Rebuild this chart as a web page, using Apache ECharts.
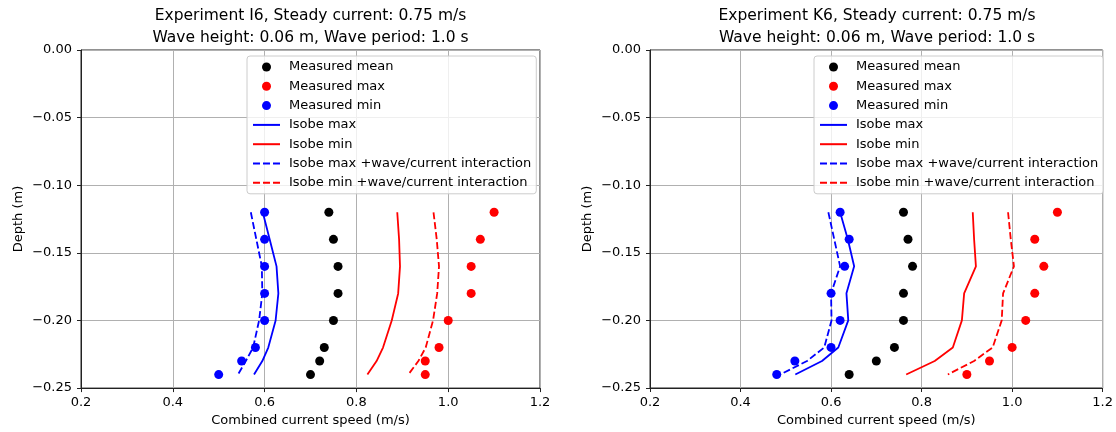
<!DOCTYPE html>
<html>
<head>
<meta charset="utf-8">
<title>Velocity profiles I6 / K6</title>
<script src="https://cdn.jsdelivr.net/npm/echarts@6/dist/echarts.min.js"></script>
<style>
  html, body { margin: 0; padding: 0; background: #fff; }
  #chart { width: 1116px; height: 432px; }
</style>
</head>
<body>
<div id="chart"></div>
<script>
// Measurement depths (m), shared by both experiments
const depths = [-0.12, -0.14, -0.16, -0.18, -0.20, -0.22, -0.23, -0.24];

// Experiment I6
const i6MeasuredMean = [0.74, 0.75, 0.76, 0.76, 0.75, 0.73, 0.72, 0.70];
const i6MeasuredMax  = [1.10, 1.07, 1.05, 1.05, 1.00, 0.98, 0.95, 0.95];
const i6MeasuredMin  = [0.60, 0.60, 0.60, 0.60, 0.60, 0.58, 0.55, 0.50];
const i6IsobeMax     = [0.596, 0.611, 0.626, 0.630, 0.624, 0.608, 0.595, 0.577];
const i6IsobeMin     = [0.889, 0.893, 0.895, 0.891, 0.877, 0.858, 0.844, 0.824];
const i6IsobeMaxWc   = [0.570, 0.582, 0.594, 0.595, 0.588, 0.575, 0.559, 0.542];
const i6IsobeMinWc   = [0.968, 0.975, 0.980, 0.976, 0.967, 0.951, 0.935, 0.913];

// Experiment K6
const k6MeasuredMean = [0.76, 0.77, 0.78, 0.76, 0.76, 0.74, 0.70, 0.64];
const k6MeasuredMax  = [1.10, 1.05, 1.07, 1.05, 1.03, 1.00, 0.95, 0.90];
const k6MeasuredMin  = [0.62, 0.64, 0.63, 0.60, 0.62, 0.60, 0.52, 0.48];
const k6IsobeMax     = [0.620, 0.637, 0.651, 0.634, 0.638, 0.616, 0.580, 0.521];
const k6IsobeMin     = [0.913, 0.916, 0.920, 0.894, 0.889, 0.869, 0.829, 0.766];
const k6IsobeMaxWc   = [0.594, 0.607, 0.620, 0.600, 0.601, 0.585, 0.547, 0.488];
const k6IsobeMinWc   = [0.991, 0.997, 1.004, 0.980, 0.977, 0.957, 0.916, 0.858];

const panelTitles = [
  'Experiment I6, Steady current: 0.75 m/s\nWave height: 0.06 m, Wave period: 1.0 s',
  'Experiment K6, Steady current: 0.75 m/s\nWave height: 0.06 m, Wave period: 1.0 s'
];
const xAxisTitle = 'Combined current speed (m/s)';
const yAxisTitle = 'Depth (m)';
const dotNames = ['Measured mean', 'Measured max', 'Measured min'];
const lineNames = [
  'Isobe max', 'Isobe min',
  'Isobe max +wave/current interaction', 'Isobe min +wave/current interaction'
];

const FONT = 'DejaVu Sans, Verdana, sans-serif';
const BLUE = '#0000ff', RED = '#ff0000', BLACK = '#000000';

const pairs = (xs) => xs.map((x, i) => [x, depths[i]]);
const minusSign = (s) => s.replace('-', '\u2212');

const panels = [
  { left: 81, width: 459, top: 50, height: 342, data: [i6MeasuredMean, i6MeasuredMax, i6MeasuredMin, i6IsobeMax, i6IsobeMin, i6IsobeMaxWc, i6IsobeMinWc] },
  { left: 650, width: 454, top: 50, height: 338, data: [k6MeasuredMean, k6MeasuredMax, k6MeasuredMin, k6IsobeMax, k6IsobeMin, k6IsobeMaxWc, k6IsobeMinWc] }
];

// Legend entries: dots keep their marker, lines show only the stroke
const legendData = dotNames.map((n) => ({ name: n }))
  .concat(lineNames.map((n) => ({ name: n, itemStyle: { opacity: 0 } })));

const grid = [], xAxis = [], yAxis = [], title = [], legend = [], series = [];

panels.forEach((p, k) => {
  grid.push({
    left: p.left, top: p.top, width: p.width, height: p.height,
    show: true, borderColor: '#222', borderWidth: 1, backgroundColor: 'transparent'
  });
  title.push({
    text: panelTitles[k],
    left: p.left + p.width / 2, top: 5, textAlign: 'center', padding: 0,
    textStyle: { fontFamily: FONT, fontSize: 15.5, fontWeight: 'normal', color: '#000', lineHeight: 22 }
  });
  xAxis.push({
    type: 'value', gridIndex: k, min: 0.2, max: 1.2, interval: 0.2,
    name: xAxisTitle, nameLocation: 'middle', nameGap: 24,
    nameTextStyle: { fontFamily: FONT, fontSize: 13, color: '#000' },
    axisLine: { show: true, onZero: false, lineStyle: { color: '#222', width: 1 } },
    axisTick: { show: true, inside: false, length: 4, lineStyle: { color: '#222' } },
    axisLabel: { margin: 8, fontFamily: FONT, fontSize: 13, color: '#000', formatter: (v) => v.toFixed(1) },
    splitLine: { show: true, lineStyle: { color: '#b0b0b0', width: 1 } }
  });
  yAxis.push({
    type: 'value', gridIndex: k, min: -0.25, max: 0, interval: 0.05,
    name: yAxisTitle, nameLocation: 'middle', nameGap: 56, nameRotate: 90,
    nameTextStyle: { fontFamily: FONT, fontSize: 13, color: '#000' },
    axisLine: { show: true, onZero: false, lineStyle: { color: '#222', width: 1 } },
    axisTick: { show: true, inside: false, length: 4, lineStyle: { color: '#222' } },
    axisLabel: { margin: 9, fontFamily: FONT, fontSize: 13, color: '#000', formatter: (v) => minusSign(v.toFixed(2)) },
    splitLine: { show: true, lineStyle: { color: '#b0b0b0', width: 1 } }
  });
  legend.push({
    data: legendData,
    orient: 'vertical',
    left: p.left + (k === 0 ? 166 : 164), top: 56,
    padding: [4, 5, 4, 5],
    itemWidth: 27, itemHeight: 9, itemGap: 5.3,
    backgroundColor: 'rgba(255,255,255,0.8)',
    borderColor: '#cccccc', borderWidth: 1, borderRadius: 3,
    selectedMode: false,
    textStyle: { fontFamily: FONT, fontSize: 13, color: '#000', lineHeight: 14, padding: [0, 0, 0, 4] }
  });

  const [mean, mx, mn, isoMax, isoMin, isoMaxWc, isoMinWc] = p.data;
  const lineSeries = (name, vals, color, dashed) => ({
    name, type: 'line', xAxisIndex: k, yAxisIndex: k, data: pairs(vals),
    symbol: 'none', showSymbol: false, z: 2,
    lineStyle: { color, width: 1.8, type: dashed ? [7, 3] : 'solid' },
    itemStyle: { color }
  });
  const dotSeries = (name, vals, color) => ({
    name, type: 'scatter', xAxisIndex: k, yAxisIndex: k, data: pairs(vals),
    symbol: 'circle', symbolSize: 9, z: 3, itemStyle: { color, opacity: 1 }
  });
  series.push(
    dotSeries(dotNames[0], mean, BLACK),
    dotSeries(dotNames[1], mx, RED),
    dotSeries(dotNames[2], mn, BLUE),
    lineSeries(lineNames[0], isoMax, BLUE, false),
    lineSeries(lineNames[1], isoMin, RED, false),
    lineSeries(lineNames[2], isoMaxWc, BLUE, true),
    lineSeries(lineNames[3], isoMinWc, RED, true)
  );
});

const chart = echarts.init(document.getElementById('chart'), null, { renderer: 'canvas' });
chart.setOption({
  animation: false,
  backgroundColor: '#ffffff',
  textStyle: { fontFamily: FONT },
  title, grid, xAxis, yAxis, legend, series
});
</script>
</body>
</html>
